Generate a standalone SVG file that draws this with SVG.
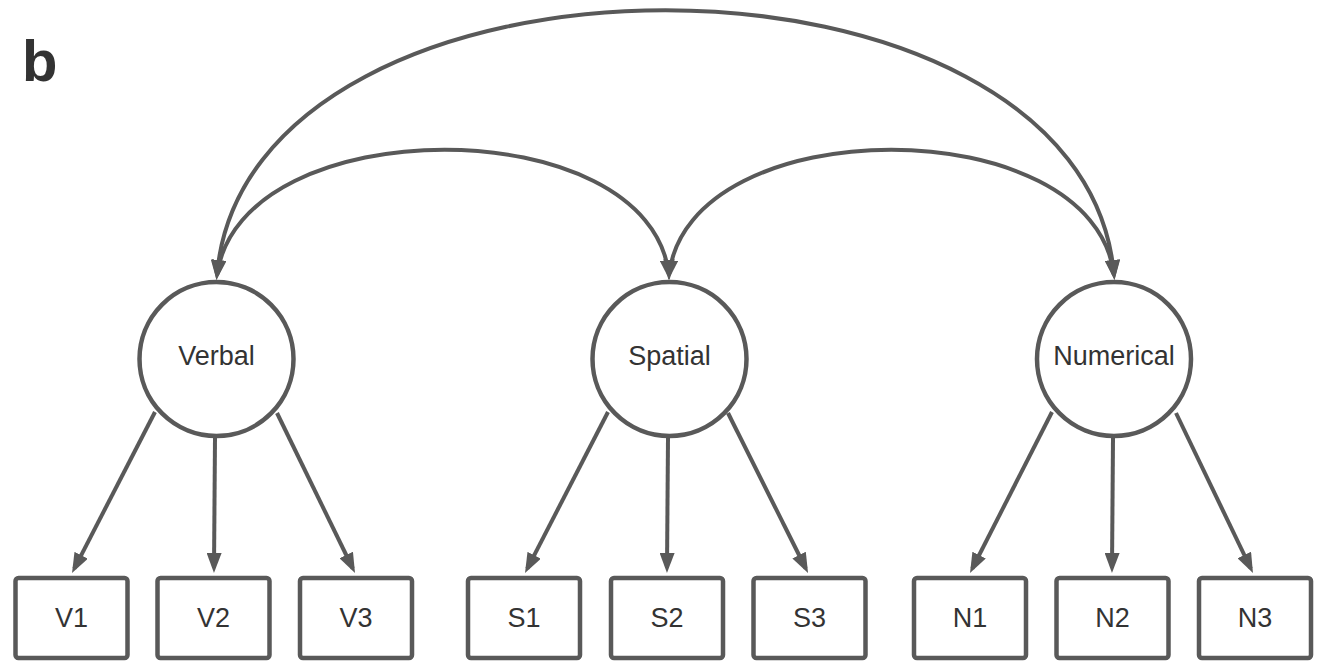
<svg xmlns="http://www.w3.org/2000/svg" width="1322" height="662" viewBox="0 0 1322 662">
<defs>
<marker id="ah" viewBox="0 0 20 15" refX="15" refY="7.5" markerWidth="20" markerHeight="15" markerUnits="userSpaceOnUse" orient="auto-start-reverse">
<path d="M0,0 L20,7.5 L0,15 z" fill="#595959"/>
</marker>
</defs>
<style>
.node circle, .node rect { fill: #ffffff; stroke: #595959; stroke-width: 4.5; }
.lbl { font-family: "Liberation Sans", Arial, sans-serif; font-size: 27px; fill: #333333; text-anchor: middle; }
.edge { fill: none; stroke: #595959; stroke-width: 4; }
.one { marker-end: url(#ah); }
.two { marker-start: url(#ah); marker-end: url(#ah); }
</style>
<rect width="1322" height="662" fill="#ffffff"/>
<text x="22" y="81" font-family="Liberation Sans, Arial, sans-serif" font-size="58" font-weight="bold" fill="#333333">b</text>

<g id="connectors">
<path class="edge two" d="M217,275 C247,-78 1084,-78 1114,275"/>
<path class="edge two" d="M217,275 C240,108 650,108 669,275"/>
<path class="edge two" d="M669,275 C688,108 1094,108 1114,275"/>
<path class="edge one" d="M155,412 L74.3,568.6"/>
<path class="edge one" d="M215,438 L214,568"/>
<path class="edge one" d="M277,413 L352.8,568.5"/>
<path class="edge one" d="M608,412 L527.3,568.6"/>
<path class="edge one" d="M668,438 L667,568"/>
<path class="edge one" d="M728,413 L805.8,568.5"/>
<path class="edge one" d="M1052,412 L972.3,568.5"/>
<path class="edge one" d="M1113,438 L1112,568"/>
<path class="edge one" d="M1176,413 L1250.8,568.5"/>
</g>

<g id="verbal" class="node"><circle cx="216.5" cy="359" r="77"/><text class="lbl" x="216.5" y="365">Verbal</text></g>
<g id="spatial" class="node"><circle cx="669.5" cy="359" r="77"/><text class="lbl" x="669.5" y="365">Spatial</text></g>
<g id="numerical" class="node"><circle cx="1114" cy="359" r="77"/><text class="lbl" x="1114" y="365">Numerical</text></g>

<g id="V1" class="node"><rect x="15.5" y="578" width="112" height="80" rx="3"/><text class="lbl" x="71.5" y="627">V1</text></g>
<g id="V2" class="node"><rect x="157.5" y="578" width="112" height="80" rx="3"/><text class="lbl" x="213.5" y="627">V2</text></g>
<g id="V3" class="node"><rect x="300" y="578" width="112" height="80" rx="3"/><text class="lbl" x="356" y="627">V3</text></g>
<g id="S1" class="node"><rect x="468" y="578" width="112" height="80" rx="3"/><text class="lbl" x="524" y="627">S1</text></g>
<g id="S2" class="node"><rect x="611" y="578" width="112" height="80" rx="3"/><text class="lbl" x="667" y="627">S2</text></g>
<g id="S3" class="node"><rect x="753.5" y="578" width="112" height="80" rx="3"/><text class="lbl" x="809.5" y="627">S3</text></g>
<g id="N1" class="node"><rect x="914" y="578" width="112" height="80" rx="3"/><text class="lbl" x="970" y="627">N1</text></g>
<g id="N2" class="node"><rect x="1056.5" y="578" width="112" height="80" rx="3"/><text class="lbl" x="1112.5" y="627">N2</text></g>
<g id="N3" class="node"><rect x="1199" y="578" width="112" height="80" rx="3"/><text class="lbl" x="1255" y="627">N3</text></g>
</svg>
